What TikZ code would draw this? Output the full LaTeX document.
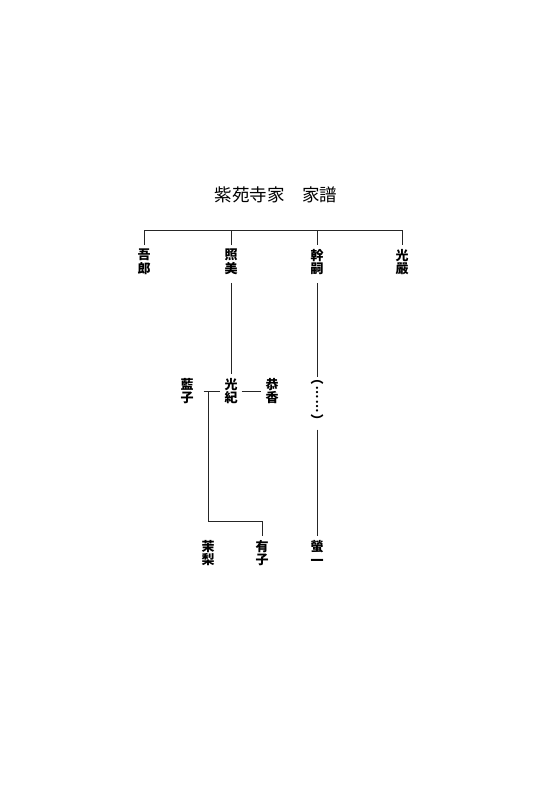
\documentclass[tikz,border=0pt]{standalone}
\usepackage{fontspec}
\newfontfamily\jp{Noto Sans CJK JP}
\begin{document}
\begin{tikzpicture}[x=1pt,y=-1pt,
  conn/.style={draw=black!85,line width=0.85pt},
  person/.style={font=\jp\bfseries\fontsize{13}{13.5}\selectfont,align=center,inner xsep=4pt,inner ysep=4pt},
  titlestyle/.style={font=\jp\fontsize{17.5}{20}\selectfont,inner sep=0pt}]
\fill[white] (0,0) rectangle (540,800);
\useasboundingbox (0,0) rectangle (540,800);
\node[titlestyle] (title) at (276,195) {紫苑寺家　家譜};
\node[person] (gorou) at (144,262) {吾\\郎};
\node[person] (terumi) at (231,262) {照\\美};
\node[person] (mikitsugu) at (317,262) {幹\\嗣};
\node[person] (kougen) at (402,262) {光\\嚴};
\node[person] (mitsunori) at (231,391) {光\\紀};
\node[person] (aiko) at (187,391) {藍\\子};
\node[person] (kyouka) at (272,391) {恭\\香};
\node[person,inner ysep=1pt,font=\jp\bfseries\fontsize{13}{14}\selectfont] (paren) at (317,403) {︵\\︙\\︙\\︶};
\node[person] (mari) at (208,553) {茉\\梨};
\node[person] (yuuko) at (262,553) {有\\子};
\node[person] (keiichi) at (317,553) {螢\\一};
\coordinate (bar) at (0,230);
\coordinate (jn) at (208,521);
\draw[conn] (gorou.north) -- (gorou.north |- bar) -- (kougen.north |- bar) -- (kougen.north);
\draw[conn] (terumi.north) -- (terumi.north |- bar);
\draw[conn] (mikitsugu.north) -- (mikitsugu.north |- bar);
\draw[conn,shorten <=4pt] (terumi.south) -- (mitsunori.north);
\draw[conn,shorten <=4pt,shorten >=2pt] (mikitsugu.south) -- (paren.north);
\draw[conn,shorten <=3pt] (paren.south) -- (keiichi.north);
\draw[conn,shorten <=6pt] (aiko.east) -- (mitsunori.west);
\draw[conn] (mitsunori.east) -- (kyouka.west);
\draw[conn] (jn |- aiko.east) -- (jn) -| (yuuko.north);
\end{tikzpicture}
\end{document}
